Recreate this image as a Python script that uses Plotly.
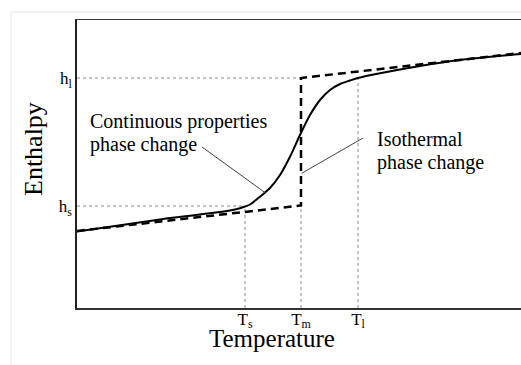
import plotly.graph_objects as go

# ---- data (arbitrary units) ----
temp_curve = [0, 83, 123, 153, 163, 168, 173, 183, 193, 203, 213, 223, 233, 243,
              253, 263, 273, 281, 303, 343, 383, 444]
enthalpy_curve = [76.5, 88.5, 93.5, 97.5, 99.8, 101.5, 103.5, 111.3, 120, 133, 151.3, 173,
                  193, 208, 218, 224, 227.5, 230, 234.7, 242, 248, 254]

iso_temp = [0, 224, 224, 444]
iso_enthalpy = [77, 102.5, 230, 255]

T_s, T_m, T_l = 168, 224, 281
h_s, h_l = 102, 230
temp_ticks = [T_s, T_m, T_l]
temp_labels = ["T<sub>s</sub>", "T<sub>m</sub>", "T<sub>l</sub>"]
enth_ticks = [h_s, h_l]
enth_labels = ["h<sub>s</sub>", "h<sub>l</sub>"]

x_range = [0, 444]
y_range = [0, 288]

FONT = "Liberation Serif, Times New Roman, serif"

fig = go.Figure()

# guide dotted lines
guide = dict(color="#8a8a8a", width=1, dash="dot")
fig.add_shape(type="line", x0=0, x1=T_m, y0=h_l, y1=h_l, line=guide, layer="below")
fig.add_shape(type="line", x0=0, x1=T_s, y0=h_s, y1=h_s, line=guide, layer="below")
fig.add_shape(type="line", x0=T_s, x1=T_s, y0=0, y1=h_s, line=guide, layer="below")
fig.add_shape(type="line", x0=T_m, x1=T_m, y0=0, y1=iso_enthalpy[1], line=guide, layer="below")
fig.add_shape(type="line", x0=T_l, x1=T_l, y0=0, y1=h_l, line=guide, layer="below")

fig.add_trace(go.Scatter(x=iso_temp, y=iso_enthalpy, mode="lines",
                         line=dict(color="black", width=2.5, dash="8px,5px"),
                         hoverinfo="skip", showlegend=False))
fig.add_trace(go.Scatter(x=temp_curve, y=enthalpy_curve, mode="lines",
                         line=dict(color="black", width=2, shape="spline", smoothing=0.8),
                         hoverinfo="skip", showlegend=False))

# leader lines
leader = dict(color="#444", width=1)
fig.add_shape(type="line", x0=125, y0=161, x1=189, y1=114.7, line=leader)
fig.add_shape(type="line", x0=286, y0=170, x1=224.7, y1=134.7, line=leader)

# text labels
txt = dict(family=FONT, size=20, color="black")
for text, x, y in [("Continuous properties", 11, 187), ("phase change", 11, 164),
                   ("Isothermal", 298, 169), ("phase change", 298, 146)]:
    fig.add_annotation(x=x, y=y, xref="x", yref="y", text=text, showarrow=False,
                       xanchor="left", yanchor="middle", font=txt)

# axis titles as annotations
fig.add_annotation(text="Temperature", x=(272 - 77) / 444, y=(308 - 338) / 288,
                   xref="paper", yref="paper", showarrow=False,
                   xanchor="center", yanchor="middle",
                   font=dict(family=FONT, size=25, color="black"))
fig.add_annotation(text="Enthalpy", x=(33 - 77) / 444, y=(308 - 149) / 288,
                   xref="paper", yref="paper", showarrow=False, textangle=-90,
                   xanchor="center", yanchor="middle",
                   font=dict(family=FONT, size=26, color="black"))

# faint outer frame
fig.add_shape(type="rect", xref="paper", yref="paper",
              x0=(11 - 77) / 444, x1=1.2, y0=-0.4, y1=(308 - 12) / 288,
              line=dict(color="#e6e6e6", width=1), layer="below")

fig.update_xaxes(range=x_range, tickvals=temp_ticks, ticktext=temp_labels,
                 showgrid=False, zeroline=False, showline=True, linecolor="#333",
                 linewidth=1.5, mirror=True, ticks="", automargin=False,
                 ticklabelstandoff=-5,
                 tickfont=dict(family=FONT, size=17, color="black"))
fig.update_yaxes(range=y_range, tickvals=enth_ticks, ticktext=enth_labels,
                 showgrid=False, zeroline=False, showline=True, linecolor="#222",
                 linewidth=1.8, mirror=False, ticks="", automargin=False,
                 tickfont=dict(family=FONT, size=17, color="black"))

fig.update_layout(width=521, height=365, margin=dict(l=77, r=0, t=20, b=57),
                  plot_bgcolor="white", paper_bgcolor="white", showlegend=False)

fig.write_html("out.html", config={"displayModeBar": False, "staticPlot": True},
               post_script=(
                   "document.body.style.margin='0';"
                   "document.body.style.overflow='hidden';"
                   "document.documentElement.style.overflow='hidden';"))
